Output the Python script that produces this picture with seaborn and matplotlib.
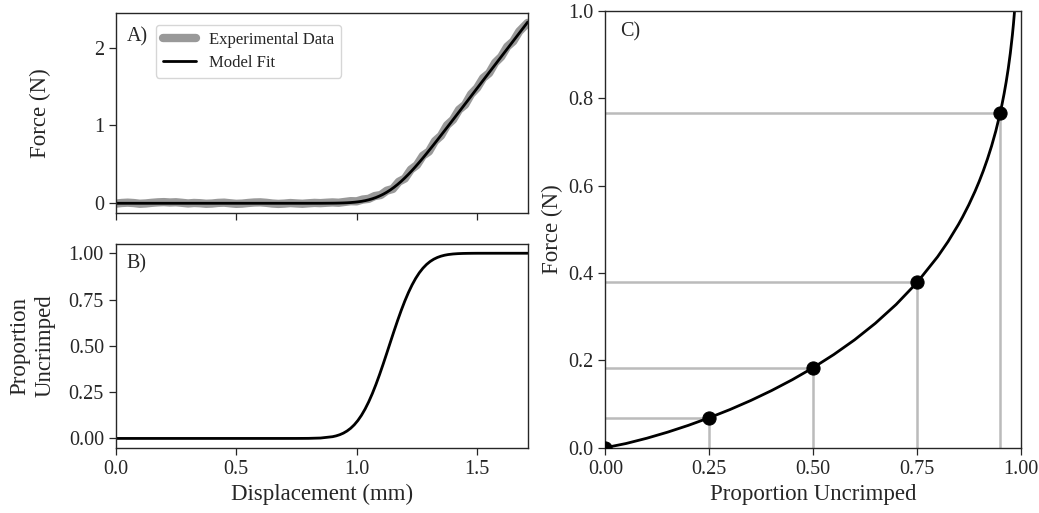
import matplotlib
matplotlib.use("Agg")
import matplotlib.pyplot as plt
import seaborn as sns
import pandas as pd

# ---------------- data ----------------
# Panel A: experimental force-displacement data (mm, N)
disp_exp = [0.000, 0.025, 0.050, 0.075, 0.100, 0.125, 0.150, 0.175, 0.200, 0.225,
            0.250, 0.275, 0.300, 0.325, 0.350, 0.375, 0.400, 0.425, 0.450, 0.475,
            0.500, 0.525, 0.550, 0.575, 0.600, 0.625, 0.650, 0.675, 0.700, 0.725,
            0.750, 0.775, 0.800, 0.825, 0.850, 0.875, 0.900, 0.925, 0.950, 0.975,
            1.000, 1.025, 1.050, 1.075, 1.100, 1.125, 1.150, 1.175, 1.200, 1.225,
            1.250, 1.275, 1.300, 1.325, 1.350, 1.375, 1.400, 1.425, 1.450, 1.475,
            1.500, 1.525, 1.550, 1.575, 1.600, 1.625, 1.650, 1.675, 1.700, 1.710]
force_exp = [-0.005, 0.004, 0.008, 0.003, -0.006, -0.002, 0.006, 0.012, 0.015, 0.010,
             0.013, 0.006, -0.002, 0.004, 0.001, -0.006, -0.003, 0.005, 0.008, 0.000,
             -0.007, -0.004, 0.004, 0.010, 0.012, 0.006, -0.003, -0.008, -0.004, 0.003,
             -0.002, -0.006, 0.000, 0.005, 0.002, 0.007, 0.011, 0.007, 0.017, 0.027,
             0.025, 0.048, 0.057, 0.093, 0.106, 0.162, 0.184, 0.277, 0.318, 0.433,
             0.491, 0.612, 0.665, 0.799, 0.868, 1.003, 1.074, 1.203, 1.266, 1.402,
             1.483, 1.610, 1.673, 1.807, 1.883, 2.013, 2.081, 2.209, 2.288, 2.319]

# Panels A & B: model fit
disp_model = [0.00, 0.20, 0.40, 0.60, 0.70, 0.75, 0.80, 0.85,
              0.90, 0.915, 0.93, 0.945, 0.96, 0.975, 0.99,
              1.005, 1.02, 1.035, 1.05, 1.065, 1.08, 1.095, 1.11, 1.125, 1.14,
              1.155, 1.17, 1.185, 1.20, 1.215, 1.23, 1.245, 1.26, 1.275, 1.29,
              1.305, 1.32, 1.335, 1.35, 1.365, 1.38,
              1.40, 1.42, 1.44, 1.46, 1.48, 1.50,
              1.60, 1.71]
prop_model = [0.0, 0.0, 0.0, 0.0, 0.00001, 0.00006, 0.0004, 0.0022,
              0.0094, 0.0139, 0.0202, 0.0287, 0.0401, 0.0548, 0.0735,
              0.0968, 0.1251, 0.1587, 0.1977, 0.2420, 0.2912, 0.3446, 0.4013, 0.4602, 0.5199,
              0.5793, 0.6368, 0.6915, 0.7422, 0.7881, 0.8289, 0.8643, 0.8944, 0.9192, 0.9394,
              0.9554, 0.9678, 0.9772, 0.9842, 0.9893, 0.9929,
              0.9960, 0.9978, 0.99886, 0.9994, 0.99972, 0.9999,
              1.0, 1.0]
force_model = [0.0, 0.0, 0.0, 0.0, 0.0, 0.0, 0.0, 0.0002,
               0.0013, 0.0020, 0.0030, 0.0045, 0.0065, 0.0094, 0.0133,
               0.0185, 0.0251, 0.0337, 0.0446, 0.0579, 0.0740, 0.0934, 0.1160, 0.1422, 0.1719,
               0.2053, 0.2422, 0.2826, 0.3262, 0.3727, 0.4218, 0.4733, 0.5267, 0.5818, 0.6383,
               0.6959, 0.7543, 0.8134, 0.8730, 0.9330, 0.9932,
               1.0738, 1.1545, 1.2354, 1.3163, 1.3973, 1.4785,
               1.8833, 2.3288]

# Panel C: force vs proportion uncrimped
prop_curve = [0.0, 0.05, 0.10, 0.15, 0.20, 0.25, 0.30, 0.35, 0.40, 0.45,
              0.50, 0.55, 0.60, 0.65, 0.70, 0.75, 0.80, 0.825, 0.85, 0.86,
              0.875, 0.89, 0.90, 0.91, 0.92, 0.93, 0.94, 0.95, 0.955, 0.96,
              0.965, 0.97, 0.975, 0.98, 0.9825, 0.985, 0.9875, 0.99]
force_curve = [0.0, 0.0096, 0.0217, 0.0356, 0.0512, 0.0685, 0.0873, 0.1080, 0.1307, 0.1556,
               0.1830, 0.2133, 0.2469, 0.2848, 0.3279, 0.3777, 0.4373, 0.4719, 0.5110, 0.5282,
               0.5561, 0.5870, 0.6096, 0.6342, 0.6612, 0.6912, 0.7250, 0.7642, 0.7862, 0.8105,
               0.8376, 0.8681, 0.9034, 0.9454, 0.9699, 0.9979, 1.0300, 1.0686]
prop_points = [0.0, 0.25, 0.50, 0.75, 0.95]
force_points = [0.0, 0.069, 0.183, 0.379, 0.767]

xticks_ab = [0.0, 0.5, 1.0, 1.5]
yticks_a = [0, 1, 2]
yticks_b = [0.00, 0.25, 0.50, 0.75, 1.00]
xticks_c = [0.00, 0.25, 0.50, 0.75, 1.00]
yticks_c = [0.0, 0.2, 0.4, 0.6, 0.8, 1.0]

# ---------------- style ----------------
sns.set_style("ticks")
plt.rcParams.update({
    "font.family": ["Liberation Serif", "DejaVu Serif"],
    "axes.linewidth": 1.0,
    "axes.edgecolor": "0.15",
    "xtick.major.size": 5,
    "ytick.major.size": 5,
    "xtick.major.width": 0.9,
    "ytick.major.width": 0.9,
    "xtick.labelsize": 14.5,
    "ytick.labelsize": 14.5,
    "axes.labelsize": 16.5,
    "xtick.color": "0.15",
    "ytick.color": "0.15",
})

GREY = "#999999"
GUIDE = "#bbbbbb"

fig = plt.figure(figsize=(10.39, 5.13), dpi=100)
axA = fig.add_axes([0.1114, 0.5848, 0.3965, 0.3899])
axB = fig.add_axes([0.1114, 0.1273, 0.3965, 0.3971])
axC = fig.add_axes([0.5826, 0.1273, 0.3998, 0.8513])

df_exp = pd.DataFrame({"x": disp_exp, "F": force_exp})
df_mod = pd.DataFrame({"x": disp_model, "F": force_model, "p": prop_model})
df_c = pd.DataFrame({"p": prop_curve, "F": force_curve})
df_pts = pd.DataFrame({"p": prop_points, "F": force_points})

# ---- Panel A ----
sns.lineplot(data=df_exp, x="x", y="F", ax=axA, color=GREY, lw=6,
             estimator=None, sort=False, label="Experimental Data")
sns.lineplot(data=df_mod, x="x", y="F", ax=axA, color="black", lw=2,
             estimator=None, sort=False, label="Model Fit")
axA.set_xlim(0, 1.71)
axA.set_xticks(xticks_ab)
axA.set_xticklabels([])
axA.set_yticks(yticks_a)
axA.set_xlabel("")
axA.set_ylabel("Force (N)")
axA.yaxis.set_label_coords(-0.158, 0.5)
axA.legend(loc="upper left", bbox_to_anchor=(0.098, 0.94), borderaxespad=0,
           fontsize=12, frameon=True, handlelength=2.0, labelspacing=0.45)
axA.text(0.027, 0.93, "A)", transform=axA.transAxes, ha="left", va="top", fontsize=14.5)

# ---- Panel B ----
sns.lineplot(data=df_mod, x="x", y="p", ax=axB, color="black", lw=2,
             estimator=None, sort=False)
axB.set_xlim(0, 1.71)
axB.set_xticks(xticks_ab)
axB.set_xticklabels([f"{t:.1f}" for t in xticks_ab])
axB.set_yticks(yticks_b)
axB.set_yticklabels([f"{t:.2f}" for t in yticks_b])
axB.set_xlabel("Displacement (mm)")
axB.set_ylabel("Proportion\nUncrimped", linespacing=1.3)
axB.yaxis.set_label_coords(-0.145, 0.5)
axB.text(0.027, 0.95, "B)", transform=axB.transAxes, ha="left", va="top", fontsize=14.5)

# ---- Panel C ----
for p, f in zip(prop_points, force_points):
    axC.hlines(f, 0, p, color=GUIDE, lw=1.8, zorder=1)
    axC.vlines(p, 0, f, color=GUIDE, lw=1.8, zorder=1)
sns.lineplot(data=df_c, x="p", y="F", ax=axC, color="black", lw=2,
             estimator=None, sort=False, zorder=2)
sns.scatterplot(data=df_pts, x="p", y="F", ax=axC, color="black", s=90,
                edgecolor="black", zorder=3)
axC.set_xlim(0, 1)
axC.set_ylim(0, 1)
axC.set_xticks(xticks_c)
axC.set_xticklabels([f"{t:.2f}" for t in xticks_c])
axC.set_yticks(yticks_c)
axC.set_yticklabels([f"{t:.1f}" for t in yticks_c])
axC.set_xlabel("Proportion Uncrimped")
axC.set_ylabel("Force (N)")
axC.text(0.035, 0.975, "C)", transform=axC.transAxes, ha="left", va="top", fontsize=14.5)

fig.savefig("out.png", dpi=100)
